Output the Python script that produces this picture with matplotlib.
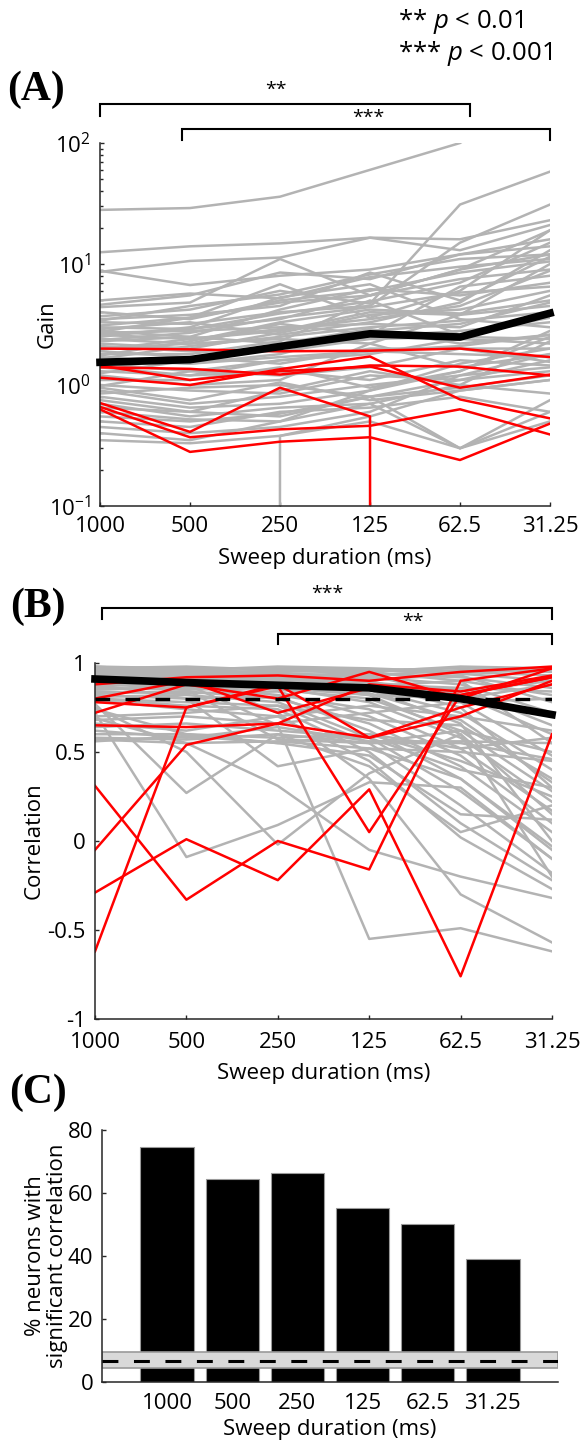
import numpy as np
import matplotlib.pyplot as plt

plt.rcParams['font.family'] = ['Open Sans', 'DejaVu Sans']
plt.rcParams['axes.unicode_minus'] = False
plt.rcParams['mathtext.fontset'] = 'custom'
plt.rcParams['mathtext.rm'] = 'Open Sans'
plt.rcParams['mathtext.it'] = 'Open Sans:italic'

nan = np.nan

# sweep durations (ms), fastest on the right
durations = ['1000', '500', '250', '125', '62.5', '31.25']

# gain per neuron (0 = no response, drawn down to the axis)
gain_gray = [
    [28.0, 29.0, 36.0, 60.0, 100.0, 300.0],
    [12.5, 14.0, 14.8, 16.5, 16.0, 23.0],
    [8.8, 6.7, 8.0, 9.0, 12.0, 16.0],
    [8.6, 10.6, 11.3, 16.5, 13.0, 21.0],
    [4.6, 5.5, 8.5, 7.5, 12.0, 14.0],
    [4.4, 4.8, 11.0, 5.5, 9.0, 12.0],
    [4.0, 3.5, 5.0, 6.0, 8.5, 10.5],
    [3.7, 4.2, 6.0, 4.7, 31.0, 58.0],
    [3.5, 3.8, 4.5, 8.5, 5.0, 11.5],
    [3.3, 3.2, 4.0, 4.5, 15.0, 31.0],
    [3.1, 3.6, 6.8, 3.6, 6.0, 19.0],
    [3.0, 2.9, 3.5, 5.5, 7.5, 9.0],
    [2.9, 3.3, 2.6, 3.3, 4.8, 13.0],
    [2.8, 2.5, 4.2, 6.2, 5.5, 7.0],
    [2.7, 2.8, 3.0, 3.2, 3.0, 5.5],
    [2.6, 2.4, 2.8, 4.0, 3.8, 4.5],
    [2.5, 3.0, 5.3, 6.8, 3.5, 3.0],
    [2.4, 2.2, 2.4, 2.2, 3.8, 10.0],
    [2.3, 2.5, 2.2, 2.9, 2.2, 2.6],
    [2.2, 2.0, 2.7, 3.8, 4.2, 6.0],
    [2.1, 1.9, 1.9, 2.4, 2.5, 2.4],
    [2.0, 2.2, 3.2, 2.6, 6.5, 8.0],
    [1.9, 1.7, 1.5, 2.0, 2.0, 2.0],
    [1.8, 1.8, 2.3, 5.0, 2.6, 3.6],
    [1.7, 1.5, 1.7, 1.9, 1.8, 1.7],
    [1.6, 1.5, 1.8, 2.8, 3.2, 4.8],
    [1.5, 1.3, 1.2, 1.4, 2.0, 1.55],
    [1.4, 1.2, 1.6, 1.8, 2.4, 2.2],
    [1.3, 1.2, 1.3, 1.1, 1.6, 1.45],
    [1.2, 1.0, 1.1, 2.2, 1.4, 1.8],
    [1.1, 1.1, 1.4, 0.95, 1.3, 2.5],
    [1.0, 0.9, 0.85, 1.2, 1.1, 1.3],
    [0.95, 0.75, 1.05, 0.75, 0.9, 1.1],
    [0.9, 0.7, 0.8, 1.0, 1.2, 1.4],
    [0.85, 0.95, 1.0, 0.8, 0.3, 0.5],
    [0.8, 0.65, 0.7, 0.9, 1.5, 2.0],
    [0.75, 0.6, 0.55, 0.8, 0.95, 1.2],
    [0.7, 0.55, 0.65, 0.7, 0.3, 0.75],
    [0.65, 0.6, 0.9, 1.3, 1.0, 0.85],
    [0.6, 0.52, 0.5, 0.7, 1.0, 2.3],
    [0.55, 0.5, 0.58, 0.8, 1.1, 1.6],
    [0.5, 0.45, 0.6, 0.65, 0.8, 0.6],
    [0.45, 0.4, 0.45, 0.6, 1.2, 1.8],
    [0.4, 0.35, 0.5, 0.9, 1.3, 2.8],
    [0.35, 0.33, 0.38, 0.55, 0.9, 1.1],
    [nan, 0.0, 0.38, 0.5, 0.3, 0.6],
    [5.0, 5.7, 5.2, 7.8, 9.5, 11.0],
    [3.4, 4.5, 5.6, 8.2, 11.0, 12.0],
    [2.75, 3.6, 4.8, 5.5, 9.0, 19.0],
    [2.35, 2.7, 3.6, 4.4, 5.8, 6.5],
    [1.95, 2.4, 2.9, 3.5, 4.5, 8.8],
    [1.65, 2.1, 2.5, 3.0, 3.4, 4.0],
    [1.25, 1.6, 2.0, 2.5, 2.8, 3.3],
    [0.98, 1.3, 1.6, 1.9, 2.1, 2.6],
    [2.6, 2.9, 3.9, 4.9, 7.0, 15.0],
    [1.75, 2.3, 3.3, 4.2, 3.9, 5.0],
]
gain_red = [
    [2.0, 1.97, 1.9, 1.92, 2.0, 1.7],
    [1.4, 1.36, 1.22, 1.45, 1.42, 1.2],
    [1.15, 1.0, 1.35, 1.72, 0.76, 0.53],
    [1.45, 1.1, 1.3, 1.42, 0.95, 1.22],
    [0.71, 0.41, 0.95, 0.55, 0.0, nan],
    [0.66, 0.37, 0.43, 0.46, 0.63, 0.39],
    [0.63, 0.28, 0.34, 0.37, 0.24, 0.48],
]
gain_mean = [1.54, 1.62, 2.08, 2.65, 2.49, 3.92]

# correlation per neuron
corr_gray = [
    [0.98, 0.97, 0.97, 0.96, 0.97, 0.96],
    [0.97, 0.96, 0.98, 0.97, 0.95, 0.93],
    [0.97, 0.98, 0.96, 0.95, 0.98, 0.97],
    [0.96, 0.95, 0.95, 0.96, 0.94, 0.90],
    [0.96, 0.97, 0.94, 0.93, 0.96, 0.95],
    [0.95, 0.94, 0.96, 0.94, 0.92, 0.86],
    [0.95, 0.93, 0.92, 0.95, 0.90, 0.82],
    [0.94, 0.95, 0.93, 0.91, 0.93, 0.78],
    [0.93, 0.92, 0.94, 0.92, 0.88, 0.72],
    [0.93, 0.94, 0.90, 0.89, 0.85, 0.65],
    [0.92, 0.90, 0.91, 0.93, 0.82, 0.60],
    [0.91, 0.92, 0.89, 0.87, 0.90, 0.55],
    [0.90, 0.88, 0.90, 0.90, 0.78, 0.48],
    [0.89, 0.91, 0.87, 0.85, 0.72, 0.40],
    [0.88, 0.86, 0.88, 0.83, 0.68, 0.33],
    [0.87, 0.89, 0.85, 0.80, 0.62, 0.28],
    [0.86, 0.85, 0.86, 0.78, 0.58, 0.22],
    [0.85, 0.87, 0.82, 0.74, 0.52, 0.17],
    [0.84, 0.83, 0.84, 0.70, 0.48, 0.10],
    [0.83, 0.84, 0.80, 0.66, 0.42, 0.05],
    [0.82, 0.80, 0.81, 0.62, 0.35, -0.03],
    [0.81, 0.82, 0.78, 0.58, 0.28, -0.10],
    [0.80, 0.78, 0.76, 0.55, 0.20, -0.18],
    [0.80, 0.76, 0.74, 0.50, 0.10, -0.22],
    [0.79, 0.74, 0.70, 0.45, 0.02, -0.27],
    [0.96, 0.93, 0.72, 0.35, -0.30, -0.57],
    [0.93, 0.88, 0.65, -0.55, -0.49, -0.62],
    [0.91, 0.85, 0.57, 0.55, 0.55, 0.46],
    [0.88, 0.80, 0.42, 0.52, 0.50, 0.45],
    [0.77, 0.27, 0.60, 0.42, 0.05, 0.20],
    [0.72, -0.09, 0.09, 0.33, 0.30, -0.10],
    [0.69, 0.55, 0.31, -0.05, -0.20, -0.32],
    [0.75, 0.50, -0.02, 0.38, 0.60, 0.15],
    [0.74, 0.60, 0.55, 0.60, 0.45, 0.25],
    [0.70, 0.72, 0.76, 0.68, 0.65, 0.35],
    [0.68, 0.70, 0.66, 0.72, 0.78, 0.80],
    [0.66, 0.62, 0.70, 0.76, 0.70, 0.62],
    [0.64, 0.66, 0.62, 0.58, 0.40, 0.30],
    [0.62, 0.58, 0.64, 0.56, 0.56, 0.55],
    [0.60, 0.60, 0.58, 0.60, 0.52, 0.58],
    [0.58, 0.57, 0.60, 0.55, 0.62, 0.50],
    [0.57, 0.55, 0.56, 0.52, 0.35, -0.05],
    [0.56, 0.59, 0.55, 0.48, 0.15, 0.12],
    [0.94, 0.90, 0.86, 0.82, 0.80, 0.88],
    [0.92, 0.93, 0.88, 0.86, 0.84, 0.90],
    [0.90, 0.91, 0.92, 0.88, 0.86, 0.84],
    [0.97, 0.96, 0.93, 0.88, 0.75, 0.30],
    [0.98, 0.95, 0.91, 0.85, 0.66, 0.00],
    [0.95, 0.92, 0.88, 0.82, 0.60, -0.20],
]
corr_red = [
    [-0.29, 0.01, -0.22, 0.29, -0.76, 0.60],
    [0.31, -0.33, 0.00, -0.16, 0.90, 0.97],
    [-0.62, 0.75, 0.87, 0.05, 0.82, 0.92],
    [-0.05, 0.54, 0.66, 0.58, 0.70, 0.90],
    [0.72, 0.88, 0.80, 0.95, 0.80, 0.97],
    [0.65, 0.64, 0.66, 0.88, 0.84, 0.93],
    [0.88, 0.92, 0.93, 0.90, 0.95, 0.98],
    [0.80, 0.90, 0.72, 0.86, 0.82, 0.92],
    [0.78, 0.75, 0.88, 0.58, 0.75, 0.88],
]
corr_mean = [0.91, 0.89, 0.875, 0.86, 0.80, 0.71]
corr_thresh = 0.8

# % neurons with significant correlation, and chance level band
pct_sig = [74.5, 64.6, 66.4, 55.1, 50.2, 38.9]
chance_lo, chance_mid, chance_hi = 4.4, 6.6, 9.4

W, H = 583, 1444
GRAY = '#b3b3b3'
AXC = '#262626'
FS = 16
LW = 1.8


def box(left, top, right, bottom):
    return [left / W, 1 - bottom / H, (right - left) / W, (bottom - top) / H]


def style(ax):
    for s in ['top', 'right']:
        ax.spines[s].set_visible(False)
    for s in ['left', 'bottom']:
        ax.spines[s].set_color(AXC)
        ax.spines[s].set_linewidth(1.1)
    ax.tick_params(which='both', direction='in', colors=AXC, labelcolor='k',
                   labelsize=FS, width=1.0)
    ax.tick_params(which='major', length=3)
    ax.tick_params(which='minor', length=2)


def bracket(ax, x0, x1, ytop, ytip, label, xl, yl):
    tr = ax.get_xaxis_transform()
    ax.plot([x0, x0, x1, x1], [ytip, ytop, ytop, ytip], color='k', lw=1.5,
            transform=tr, clip_on=False, solid_joinstyle='miter')
    ax.text(xl, yl, label, transform=tr, ha='center', va='center', fontsize=14)


fig = plt.figure(figsize=(W / 100, H / 100), dpi=100)
xs = np.arange(len(durations))

# (A) gain
axA = fig.add_axes(box(100, 143, 550, 506))
for row in gain_gray:
    axA.plot(xs, row, color=GRAY, lw=LW)
for row in gain_red:
    axA.plot(xs, row, color='red', lw=LW)
axA.plot(xs, gain_mean, color='k', lw=5.5, clip_on=False, zorder=5)
axA.set_yscale('log', nonpositive='clip')
axA.set_ylim(0.1, 100)
axA.set_xlim(0, 5)
axA.set_xticks(xs)
axA.set_xticklabels(durations)
style(axA)
axA.tick_params(axis='x', pad=7)
axA.tick_params(axis='y', pad=6.5)
axA.set_ylabel('Gain', fontsize=FS)
axA.yaxis.set_label_coords(-0.095, 0.5)
axA.set_xlabel('Sweep duration (ms)', fontsize=FS)
axA.xaxis.set_label_coords(0.5, -0.116)
bracket(axA, 0, 4.11, 1.1066, 1.0744, '**', 1.95, 1.146)
bracket(axA, 0.91, 5, 1.0377, 1.0083, '***', 2.98, 1.069)

# (B) correlation
axB = fig.add_axes(box(95, 663, 552, 1019))
for row in corr_gray:
    axB.plot(xs, row, color=GRAY, lw=LW)
for row in corr_red:
    axB.plot(xs, row, color='red', lw=LW)
axB.axhline(corr_thresh, color='k', lw=2.4, linestyle=(0, (4.4, 4.6)), zorder=4)
axB.plot(xs, corr_mean, color='k', lw=5.5, clip_on=False, zorder=5)
axB.set_ylim(-1, 1)
axB.set_xlim(0, 5)
axB.set_yticks([-1, -0.5, 0, 0.5, 1])
axB.set_yticklabels(['-1', '-0.5', '0', '0.5', '1'])
axB.set_xticks(xs)
axB.set_xticklabels(durations)
style(axB)
axB.tick_params(axis='x', pad=9.4)
axB.tick_params(axis='y', pad=6.5)
axB.set_ylabel('Correlation', fontsize=FS)
axB.yaxis.set_label_coords(-0.111, 0.5)
axB.set_xlabel('Sweep duration (ms)', fontsize=FS)
axB.xaxis.set_label_coords(0.5, -0.1236)
bracket(axB, 0.077, 5, 1.1553, 1.1236, '***', 2.54, 1.194)
bracket(axB, 2, 5, 1.0815, 1.0534, '**', 3.48, 1.116)

# (C) fraction of significant neurons
axC = fig.add_axes(box(102, 1130, 558, 1382))
pos = np.arange(1, len(durations) + 1)
axC.bar(pos, pct_sig, width=0.82, color='k', edgecolor='#9a9a9a', lw=0.8, zorder=1)
axC.axhspan(chance_lo, chance_hi, facecolor='#d9d9d9', edgecolor='#9a9a9a',
            lw=1.2, zorder=2)
axC.axhline(chance_mid, color='k', lw=2.2, linestyle=(0, (5.2, 5.1)), zorder=3)
axC.set_xlim(0, 7)
axC.set_ylim(0, 80)
axC.set_yticks([0, 20, 40, 60, 80])
axC.set_xticks(pos)
axC.set_xticklabels(durations)
style(axC)
axC.tick_params(axis='x', length=0, pad=8.2)
axC.tick_params(axis='y', pad=6.3)
axC.set_ylabel('% neurons with\nsignificant correlation', fontsize=FS, linespacing=1.05)
axC.yaxis.set_label_coords(-0.075, 0.5)
axC.set_xlabel('Sweep duration (ms)', fontsize=FS)
axC.xaxis.set_label_coords(0.5, -0.145)

# panel letters
for lab, (px, py) in zip(['(A)', '(B)', '(C)'], [(36, 90), (38, 607), (38, 1093)]):
    fig.text(px / W, 1 - py / H, lab, ha='center', va='center', fontsize=30,
             fontweight='bold', family='Liberation Serif')

# significance key
fig.text(398 / W, 1 - 21.7 / H, r'** $\mathit{p}$ < 0.01', ha='left', va='center', fontsize=18.5)
fig.text(398 / W, 1 - 53 / H, r'*** $\mathit{p}$ < 0.001', ha='left', va='center', fontsize=18.5)

fig.savefig('out.png', dpi=100)
